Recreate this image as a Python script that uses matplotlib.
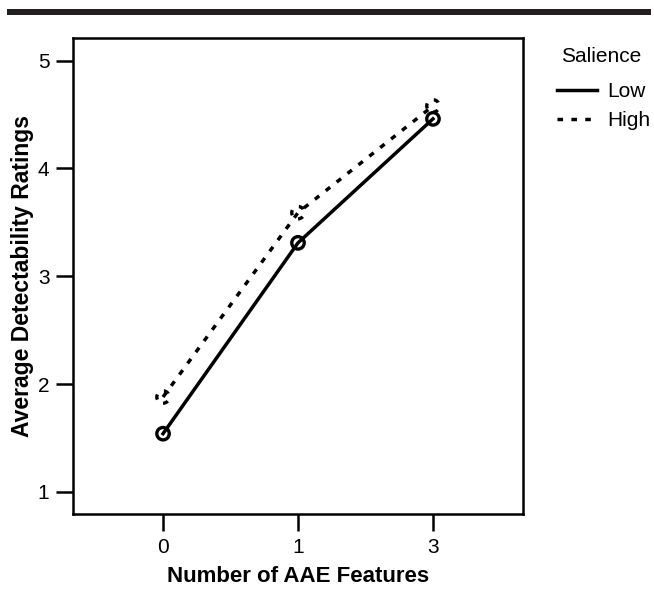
import matplotlib.pyplot as plt
from matplotlib.patches import Rectangle

plt.rcParams['font.family'] = ['Liberation Sans', 'DejaVu Sans']

features = ["0", "1", "3"]
low = [1.54, 3.31, 4.46]
high = [1.88, 3.59, 4.58]
yticks = [1, 2, 3, 4, 5]

W, H = 654, 607
fig = plt.figure(figsize=(W / 100, H / 100), dpi=100)
ax = fig.add_axes([73 / W, 1 - 514 / H, 450 / W, 476 / H])

# header bar
fig.add_artist(Rectangle((7 / W, 1 - 15 / H), 644 / W, 6 / H,
                         transform=fig.transFigure, color="#231f20", lw=0))

dots = (0, (1.6, 2.4))
x = list(range(len(features)))
ax.plot(x, low, color="black", lw=2.5, label="Low")
ax.scatter(x, low, s=80, facecolors="none", edgecolors="black", linewidths=2.4, zorder=3)
ax.plot(x, high, color="black", lw=2.5, ls=dots, label="High")
ax.scatter(x, high, s=80, facecolors="none", edgecolors="black", linewidths=2.4,
           linestyles=dots, zorder=3)

ax.set_xlim(-0.667, 2.667)
ax.set_ylim(0.795, 5.21)
ax.set_xticks(x)
ax.set_xticklabels(features)
ax.set_yticks(yticks)

for s in ax.spines.values():
    s.set_linewidth(1.8)
ax.tick_params(direction="out", length=12, width=1.8, labelsize=15, pad=5)

ax.set_xlabel("Number of AAE Features", fontsize=16, fontweight="bold", labelpad=7)
ax.set_ylabel("Average Detectability Ratings", fontsize=16.5, fontweight="bold", labelpad=3)

# legend title drawn on its own so the gap to the entries matches
fig.text(601 / W, 1 - 56 / H, "Salience", fontsize=15, ha="center", va="center")
leg = ax.legend(loc="upper left", bbox_to_anchor=(557 / W, 1 - 82 / H),
                bbox_transform=fig.transFigure, frameon=False, fontsize=15,
                borderpad=0, borderaxespad=0,
                handlelength=1.9, handletextpad=0.5, labelspacing=0.5)

fig.savefig("out.png", dpi=100)
